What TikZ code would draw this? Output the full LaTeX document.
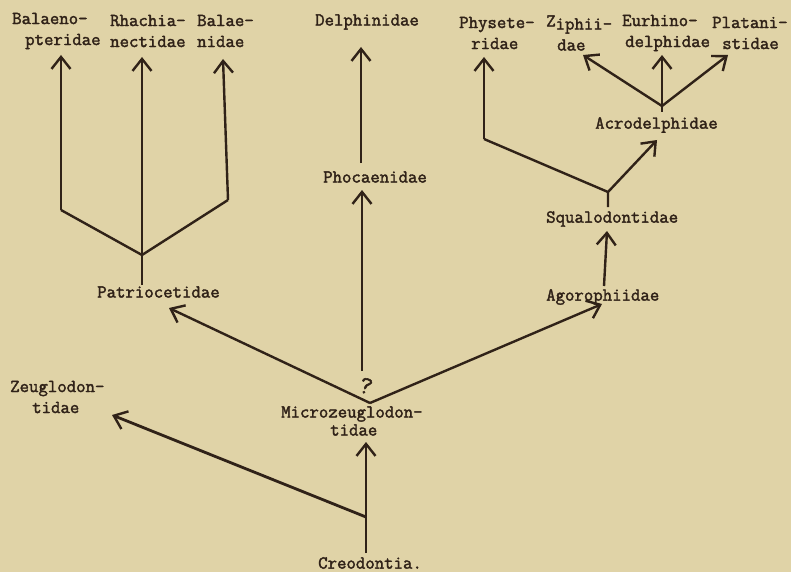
\documentclass[tikz,border=0pt]{standalone}
\usepackage{fontspec}
\newfontfamily\twfont{Latin Modern Mono}[FakeBold=2]
\usetikzlibrary{arrows.meta}
\definecolor{paper}{RGB}{224,211,167}
\definecolor{ink}{RGB}{48,34,24}
\begin{document}
\begin{tikzpicture}[x=1pt,y=-1pt,
  lbl/.style={inner sep=0pt, anchor=west, align=left, text=ink,
    font=\twfont\fontsize{18.3}{21}\selectfont},
  arr/.style={draw=ink, line width=2.4pt,
    -{Straight Barb[length=12pt,width=19pt,line width=2.4pt]}},
  ln/.style={draw=ink, line width=2.4pt, line join=miter}]
\fill[paper] (0,0) rectangle (791,572);
\useasboundingbox (0,0) rectangle (791,572);

% labels
\node[lbl] (bal) at (12,31) {Balaeno-\\\hspace*{13pt}pteridae};
\node[lbl] (rha) at (110,31) {Rhachia-\\nectidae};
\node[lbl] (bae) at (197,31) {Balae-\\nidae};
\node[lbl] (del) at (315,22) {Delphinidae};
\node[lbl] (phy) at (459,33) {Physete-\\\hspace*{12pt}ridae};
\node[lbl] (zip) at (546,33) {\raisebox{3pt}{Z}iphii-\\\hspace*{11pt}dae};
\node[lbl] (eur) at (622,33) {Eurhino-\\\hspace*{3pt}delphidae};
\node[lbl] (pla) at (712,33) {Platani-\\\hspace*{10pt}stidae};
\node[lbl] (pho) at (323,177) {Phocaenidae};
\node[lbl] (acr) at (595,125) {Acrodelphidae};
\node[lbl] (squ) at (546,219) {Squalodontidae};
\node[lbl] (pat) at (97,292) {Patriocetidae};
\node[lbl] (ago) at (546,297) {Agorophiidae};
\node[lbl] (zeu) at (10,397) {Zeuglodon-\\\hspace*{22pt}tidae};
\node[lbl] (mic) at (281,421) {Microzeuglodon-\\[-3pt]\hspace*{49pt}tidae};
\node[lbl] (cre) at (318,563) {Creodontia.};
\node[lbl, anchor=center, font=\twfont\fontsize{25}{25}\selectfont] (qm) at (366,386) {\rotatebox{-15}{?}};

% junctions and tips
\coordinate (jc) at (366,517);
\coordinate (jm) at (370,403);
\coordinate (jp) at (142,255);
\coordinate (jpl) at (61,210);
\coordinate (jpr) at (228,200);
\coordinate (jpb) at (142,285);
\coordinate (js) at (608,192);
\coordinate (jsb) at (608,207);
\coordinate (jsl) at (484,139);
\coordinate (ja) at (662,106);
\coordinate (jab) at (662,112);
\coordinate (creTop) at (366,553);
\coordinate (micTip) at (366,442);
\coordinate (zeuTip) at (112,415);
\coordinate (patTip) at (169,308);
\coordinate (agoTip) at (602,304);
\coordinate (agoTop) at (604,286);
\coordinate (squTip) at (607,231);
\coordinate (phoBot) at (362,371);
\coordinate (phoTip) at (362,190);
\coordinate (delBot) at (361,163);
\coordinate (delTip) at (361,47);
\coordinate (balTip) at (61,55);
\coordinate (rhaTip) at (142,57);
\coordinate (baeTip) at (223,59);
\coordinate (phyTip) at (484,57);
\coordinate (acrTip) at (657,140);
\coordinate (zipTip) at (583,55);
\coordinate (eurTip) at (662,55);
\coordinate (plaTip) at (728,55);

% connectors
\draw[arr, line width=2.8pt] (creTop) -- (micTip);
\draw[arr, line width=2.8pt] (jc) -- (zeuTip);
\draw[arr] (jm) -- (patTip);
\draw[arr] (jm) -- (agoTip);
\draw[arr] (phoBot) -- (phoTip);
\draw[arr] (delBot) -- (delTip);
\draw[ln] (jpl) -- (jp) -- (jpr);
\draw[arr] (jpl) -- (balTip);
\draw[arr] (jpb) -- (rhaTip);
\draw[arr] (jpr) -- (baeTip);
\draw[arr] (agoTop) -- (squTip);
\draw[ln] (jsb) -- (js) -- (jsl);
\draw[arr] (jsl) -- (phyTip);
\draw[arr] (js) -- (acrTip);
\draw[ln] (jab) -- (ja);
\draw[arr] (ja) -- (zipTip);
\draw[arr] (ja) -- (eurTip);
\draw[arr] (ja) -- (plaTip);
\end{tikzpicture}
\end{document}
